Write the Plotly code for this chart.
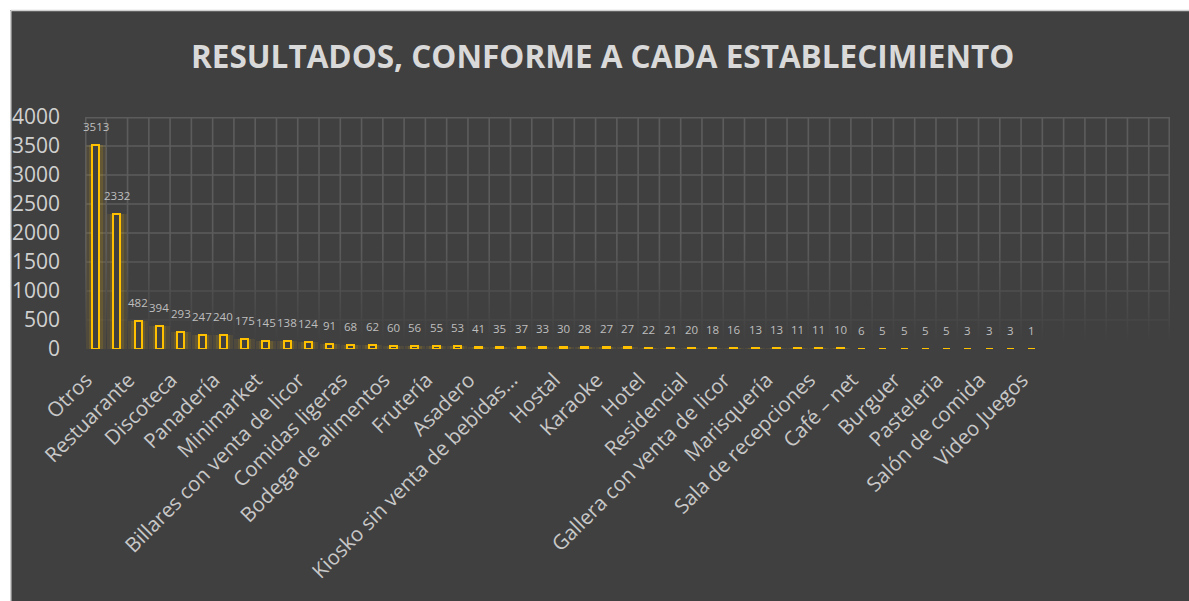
import base64
import plotly.graph_objects as go

categories = [
    "Otros", "Tienda", "Restuarante", "Bar", "Discoteca", "Licorería",
    "Panadería", "Cantina", "Minimarket", "Farmacia",
    "Billares con venta de licor", "Heladería", "Comidas ligeras", "Cafetería",
    "Bodega de alimentos", "Pizzería", "Frutería", "Carnicería", "Asadero",
    "Picantería", "Kiosko sin venta de bebidas…", "Micromercado", "Hostal",
    "Night club", "Karaoke", "Cevichería", "Hotel", "Pollería", "Residencial",
    "Salón de eventos", "Gallera con venta de licor", "Billares sin venta de licor",
    "Marisquería", "Gallera sin venta de licor", "Sala de recepciones",
    "Kiosko con venta de bebidas", "Café – net", "Motel", "Burguer", "Comisariato",
    "Pasteleria", "Depósito de licores", "Salón de comida", "Gimnasio", "Video Juegos",
]
values = [
    3513, 2332, 482, 394, 293, 247, 240, 175, 145, 138, 124, 91, 68, 62, 60,
    56, 55, 53, 41, 35, 37, 33, 30, 28, 27, 27, 22, 21, 20, 18, 16, 13, 13,
    11, 11, 10, 6, 5, 5, 5, 5, 3, 3, 3, 1,
]
n_slots = 51           # category slots drawn on the axis (incl. empty ones)
y_max = 4000
y_step = 500
title = "RESULTADOS, CONFORME A CADA ESTABLECIMIENTO"

W, H = 1189, 601
ml, mr, mt, mb = 81, 19, 117, 252
pw, ph = W - ml - mr, H - mt - mb

idx = list(range(len(values)))

# faded grid as an SVG image placed in data coordinates
rows = y_max // y_step
gw, gh = pw, ph
parts = []
for i in range(n_slots + 1):
    x = min(max(i * gw / n_slots, 0.75), gw - 0.75)
    parts.append(f"M{x:.2f} 0V{gh}")
for j in range(rows + 1):
    y = min(max(j * gh / rows, 0.75), gh - 0.75)
    parts.append(f"M0 {y:.2f}H{gw}")
svg = (
    f'<svg xmlns="http://www.w3.org/2000/svg" width="{gw}" height="{gh}" viewBox="0 0 {gw} {gh}">'
    f'<defs><linearGradient id="g" gradientUnits="userSpaceOnUse" x1="0" y1="0" x2="0" y2="{gh}">'
    '<stop offset="0" stop-color="#5c5c5c" stop-opacity="1"/>'
    '<stop offset="0.55" stop-color="#5c5c5c" stop-opacity="1"/>'
    '<stop offset="0.97" stop-color="#5c5c5c" stop-opacity="0"/>'
    '</linearGradient></defs>'
    f'<path d="{" ".join(parts)}" stroke="url(#g)" stroke-width="1.6" fill="none"/></svg>'
)
src = "data:image/svg+xml;base64," + base64.b64encode(svg.encode()).decode()

fig = go.Figure()
# glow layers
fig.add_trace(go.Bar(x=idx, y=values, width=0.95, marker=dict(color="rgba(255,192,0,0.08)", line=dict(width=0)),
                     hoverinfo="skip", showlegend=False))
fig.add_trace(go.Bar(x=idx, y=values, width=0.65, marker=dict(color="rgba(255,192,0,0.13)", line=dict(width=0)),
                     hoverinfo="skip", showlegend=False))
# main outlined bars
fig.add_trace(go.Bar(x=idx, y=values, width=0.33,
                     marker=dict(color="#404040", line=dict(color="#FFC000", width=2)),
                     showlegend=False))

for i, v in zip(idx, values):
    fig.add_annotation(x=i, y=v, text=str(v), showarrow=False, yanchor="bottom", yshift=9,
                       font=dict(family="Open Sans", size=11.5, color="#bfbfbf"))


def px_x(p):
    return (p - ml) / pw


def px_y(p):
    return 1 - (p - mt) / ph


fig.add_annotation(xref="paper", yref="paper", x=px_x(600), y=px_y(55),
                   text=f"<b>{title}</b>", showarrow=False, xanchor="center", yanchor="middle",
                   font=dict(family="Open Sans", size=31.5, color="#d9d9d9"))

# white page margin and thin border around the chart frame
fig.add_shape(type="rect", xref="paper", yref="paper", x0=px_x(-5), x1=px_x(W + 5), y0=px_y(-5), y1=px_y(10),
              fillcolor="white", line=dict(width=0), layer="below")
fig.add_shape(type="rect", xref="paper", yref="paper", x0=px_x(-5), x1=px_x(6), y0=px_y(-5), y1=px_y(H + 5),
              fillcolor="white", line=dict(width=0), layer="below")
fig.add_shape(type="line", xref="paper", yref="paper", x0=px_x(6.5), x1=px_x(W + 5), y0=px_y(10.5), y1=px_y(10.5),
              line=dict(color="#d0d0d0", width=1.5), layer="below")
fig.add_shape(type="line", xref="paper", yref="paper", x0=px_x(6.5), x1=px_x(6.5), y0=px_y(10.5), y1=px_y(H + 5),
              line=dict(color="#d0d0d0", width=1.5), layer="below")

label_shift = -0.45  # rotated labels end just left of each bar centre
fig.update_layout(
    width=W, height=H,
    margin=dict(l=ml, r=mr, t=mt, b=mb),
    paper_bgcolor="#404040", plot_bgcolor="rgba(0,0,0,0)",
    barmode="overlay", bargap=0,
    images=[dict(source=src, xref="x", yref="y", x=-0.5, y=y_max, sizex=n_slots, sizey=y_max,
                 xanchor="left", yanchor="top", sizing="stretch", layer="below")],
    xaxis=dict(range=[-0.5, n_slots - 0.5], tickmode="array",
               tickvals=[i + label_shift for i in idx[::2]], ticktext=categories[::2],
               tickangle=-45, showgrid=False, zeroline=False, showline=False, ticks="",
               ticklabelstandoff=14,
               tickfont=dict(family="Open Sans", size=20.5, color="#c8c8c8")),
    yaxis=dict(range=[0, y_max], dtick=y_step, showgrid=False, zeroline=False, showline=False, ticks="",
               ticklabelstandoff=24,
               tickfont=dict(family="Open Sans", size=21, color="#d0d0d0")),
)

fig.write_html("out.html", config={"displayModeBar": False},
               post_script="document.body.style.margin='0';document.body.style.overflow='hidden';")
